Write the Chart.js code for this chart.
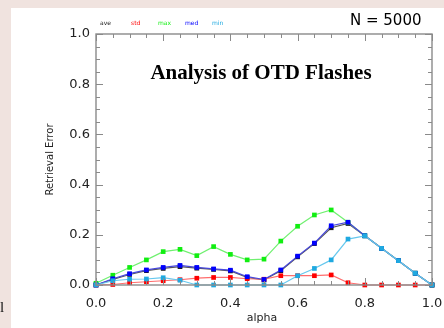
<!DOCTYPE html>
<html><head><meta charset="utf-8">
<script src="https://cdn.jsdelivr.net/npm/chart.js@4/dist/chart.umd.min.js"></script>
<style>html,body{margin:0;padding:0;background:#fff;}canvas{display:block;}</style>
</head><body>
<canvas id="c" width="444" height="328"></canvas>
<script>
const alpha = [0.0,0.05,0.1,0.15,0.2,0.25,0.3,0.35,0.4,0.45,0.5,0.55,0.6,0.65,0.7,0.75,0.8,0.85,0.9,0.95,1.0];
const aveVals = [0.0,0.022,0.042,0.057,0.066,0.073,0.067,0.062,0.056,0.030,0.020,0.057,0.112,0.165,0.228,0.245,0.196,0.146,0.097,0.047,0.0];
const stdVals = [0.0,0.002,0.009,0.013,0.017,0.021,0.027,0.030,0.030,0.025,0.023,0.037,0.037,0.037,0.040,0.009,0.0,0.0,0.0,0.0,0.0];
const maxVals = [0.007,0.039,0.070,0.100,0.133,0.142,0.117,0.153,0.122,0.100,0.103,0.175,0.234,0.279,0.299,0.250,0.196,0.146,0.097,0.047,0.0];
const medVals = [0.0,0.025,0.045,0.060,0.070,0.078,0.070,0.064,0.059,0.033,0.022,0.060,0.115,0.167,0.236,0.250,0.196,0.146,0.097,0.047,0.0];
const minVals = [0.0,0.017,0.023,0.024,0.029,0.019,0.0,0.0,0.0,0.0,0.0,0.0,0.037,0.066,0.100,0.183,0.196,0.146,0.097,0.047,0.0];
const seriesNames = ['ave','std','max','med','min'];
const xTickValues = [0.0,0.2,0.4,0.6,0.8,1.0];
const xTickLabels = ['0.0','0.2','0.4','0.6','0.8','1.0'];
const yTickValues = [0.0,0.2,0.4,0.6,0.8,1.0];
const yTickLabels = ['0.0','0.2','0.4','0.6','0.8','1.0'];
const chartTitle = 'Analysis of OTD Flashes';
const sampleNote = 'N = 5000';
const xTitle = 'alpha';
const yTitle = 'Retrieval Error';

const seriesVals = [aveVals, stdVals, maxVals, medVals, minVals];
const markerColors = ['#1a1a1a','#ff0000','#11ee11','#0000ff','#1fa9e0'];
const lineColors = ['#555555','#ff6d6d','#70f070','#4848dd','#66c8ee'];
const drawOrder = [5,4,3,2,1];

const datasets = seriesNames.map((n,k)=>({
  label: n,
  data: alpha.map((a,i)=>({x:a, y:seriesVals[k][i]})),
  borderColor: lineColors[k],
  backgroundColor: markerColors[k],
  pointBackgroundColor: markerColors[k],
  pointBorderColor: markerColors[k],
  pointBorderWidth: 0,
  pointStyle: 'rect',
  pointRadius: 3.3,
  borderWidth: 1.2,
  tension: 0,
  clip: false,
  order: drawOrder[k]
}));

const decor = {
  id: 'decor',
  beforeDraw(chart){
    const c = chart.ctx;
    c.save();
    c.fillStyle = '#ffffff';
    c.fillRect(0,0,chart.width,chart.height);
    c.fillStyle = '#f0e3df';
    c.fillRect(0,0,chart.width,8);
    c.fillRect(0,0,11,chart.height);
    c.fillStyle = '#111';
    c.font = '15px "Liberation Serif"';
    c.textBaseline = 'alphabetic';
    c.fillText('l', 0, 312);
    c.restore();
  },
  afterDraw(chart){
    const c = chart.ctx, a = chart.chartArea;
    const xs = chart.scales.x, ys = chart.scales.y;
    c.save();
    c.strokeStyle = '#8a8a8a';
    c.lineWidth = 1.4;
    c.strokeRect(a.left, a.top, a.right-a.left, a.bottom-a.top);
    c.lineWidth = 1;
    c.beginPath();
    for (let i=0;i<=20;i++){
      const major = i%4===0;
      const L = major ? 7 : 4;
      const px = Math.round(xs.getPixelForValue(i/20))+0.5;
      c.moveTo(px, a.bottom); c.lineTo(px, a.bottom-L);
      c.moveTo(px, a.top); c.lineTo(px, a.top+L);
      const py = Math.round(ys.getPixelForValue(i/20))+0.5;
      c.moveTo(a.left, py); c.lineTo(a.left+L, py);
      c.moveTo(a.right, py); c.lineTo(a.right-L, py);
    }
    c.stroke();
    // title
    c.fillStyle = '#000';
    c.font = 'bold 21px "Liberation Serif"';
    c.textAlign = 'center'; c.textBaseline = 'middle';
    c.fillText(chartTitle, 261, 74);
    // N label
    c.font = '15px "DejaVu Sans"';
    c.textAlign = 'left';
    c.fillText(sampleNote, 350, 21);
    // legend
    c.font = '6px "DejaVu Sans"';
    const lx = [100,131,158,185,212];
    seriesNames.forEach((n,k)=>{ c.fillStyle = markerColors[k]; c.fillText(n, lx[k], 23); });
    // axis titles
    c.fillStyle = '#222';
    c.font = '11px "DejaVu Sans"';
    c.textAlign = 'center';
    c.fillText(xTitle, (a.left+a.right)/2 - 2, 318);
    c.translate(50, (a.top+a.bottom)/2);
    c.rotate(-Math.PI/2);
    c.font = '10px "DejaVu Sans"';
    c.fillText(yTitle, 0, 0);
    c.restore();
  }
};

new Chart(document.getElementById('c'), {
  type: 'line',
  data: { datasets },
  options: {
    responsive: false,
    animation: false,
    devicePixelRatio: 1,
    layout: { padding: { left: 0, right: 12, top: 34, bottom: 0 } },
    plugins: { legend: { display: false }, tooltip: { enabled: false }, title: { display: false } },
    scales: {
      x: {
        type: 'linear', min: 0, max: 1,
        grid: { display: false, drawTicks: false },
        border: { display: false },
        afterFit(s){ s.height = 43; s.paddingLeft = 0; s.paddingRight = 0; },
        afterBuildTicks(s){ s.ticks = xTickValues.map(v=>({value:v})); },
        ticks: { padding: 11, color: '#222', font: { family: 'DejaVu Sans', size: 13 }, maxRotation: 0,
          callback: (v,i)=>xTickLabels[i] }
      },
      y: {
        type: 'linear', min: 0, max: 1,
        grid: { display: false, drawTicks: false },
        border: { display: false },
        afterFit(s){ s.width = 96; s.paddingTop = 0; s.paddingBottom = 0; },
        afterBuildTicks(s){ s.ticks = yTickValues.map(v=>({value:v})); },
        ticks: { padding: 6, color: '#222', font: { family: 'DejaVu Sans', size: 13 },
          callback: (v,i)=>yTickLabels[i] }
      }
    }
  },
  plugins: [decor]
});
</script>
</body></html>
